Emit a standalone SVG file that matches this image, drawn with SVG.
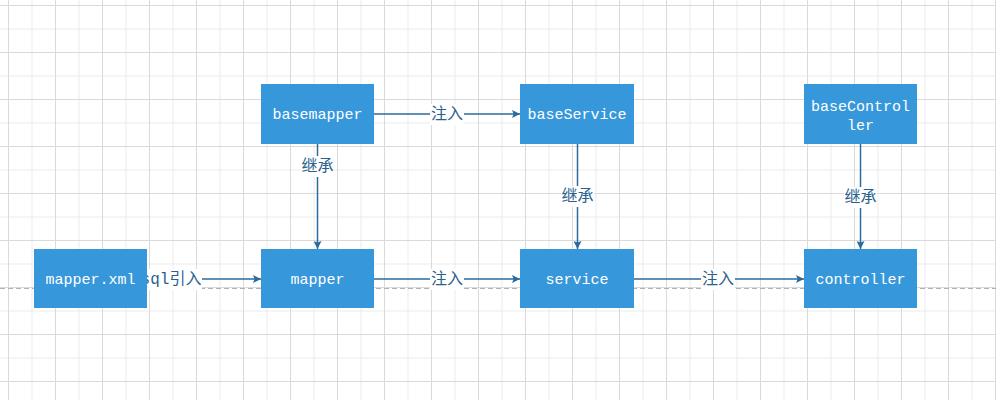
<svg xmlns="http://www.w3.org/2000/svg" width="996" height="400" viewBox="0 0 996 400">
<defs>
<pattern id="grid" patternUnits="userSpaceOnUse" x="8" y="5" width="47" height="47">
<rect x="0" y="0" width="47" height="47" fill="#ffffff"/>
<rect x="23.5" y="0" width="1" height="47" fill="#ececec"/>
<rect x="0" y="23.5" width="47" height="1" fill="#ececec"/>
<rect x="0" y="0" width="1" height="47" fill="#dadada"/>
<rect x="0" y="0" width="47" height="1" fill="#dadada"/>
</pattern>
<marker id="arr" viewBox="0 0 10 10" refX="10" refY="5" markerWidth="8" markerHeight="8" markerUnits="userSpaceOnUse" orient="auto">
<path d="M0,0 L10,5 L0,10 L2,5 Z" fill="#2b6a9c"/>
</marker>
<style>
.box{fill:#3797db;}
.bt{font-family:"Liberation Mono",monospace;font-size:15px;fill:#ffffff;text-anchor:middle;dominant-baseline:central;}
.ln{stroke:#2b6a9c;stroke-width:1.5;fill:none;marker-end:url(#arr);}
.lb{font-family:"Liberation Mono","Noto Sans CJK SC",monospace;font-size:16px;fill:#2b5f8c;text-anchor:middle;dominant-baseline:central;}
.lbg{fill:#ffffff;}
</style>
</defs>
<rect x="0" y="0" width="996" height="400" fill="url(#grid)"/>
<line x1="0" y1="288.5" x2="996" y2="288.5" stroke="#b0b0b0" stroke-width="1" stroke-dasharray="5,3"/>

<g id="connectors">
<line class="ln" x1="374" y1="114" x2="520" y2="114"/>
<line class="ln" x1="317.5" y1="144" x2="317.5" y2="249"/>
<line class="ln" x1="147" y1="279" x2="261" y2="279"/>
<line class="ln" x1="374" y1="279" x2="520" y2="279"/>
<line class="ln" x1="634" y1="279" x2="804" y2="279"/>
<line class="ln" x1="577.5" y1="144" x2="577.5" y2="249"/>
<line class="ln" x1="860.5" y1="144" x2="860.5" y2="249"/>
<rect class="lbg" x="430" y="104" width="34" height="21"/>
<text class="lb" x="447" y="115">注入</text>
<rect class="lbg" x="301" y="156" width="33" height="21"/>
<text class="lb" x="317.5" y="167">继承</text>
<rect class="lbg" x="140" y="269" width="62" height="21"/>
<text class="lb" x="171" y="280">sql引入</text>
<rect class="lbg" x="430" y="269" width="34" height="21"/>
<text class="lb" x="447" y="280">注入</text>
<rect class="lbg" x="701" y="269" width="34" height="21"/>
<text class="lb" x="718" y="280">注入</text>
<rect class="lbg" x="561" y="186" width="33" height="21"/>
<text class="lb" x="577.5" y="197">继承</text>
<rect class="lbg" x="844" y="187" width="33" height="21"/>
<text class="lb" x="860.5" y="198">继承</text>
</g>

<g id="basemapper">
<rect class="box" x="261" y="84" width="113" height="60"/>
<text class="bt" x="317.5" y="115">basemapper</text>
</g>
<g id="baseService">
<rect class="box" x="520" y="84" width="114" height="60"/>
<text class="bt" x="577" y="115">baseService</text>
</g>
<g id="baseController">
<rect class="box" x="804" y="84" width="113" height="60"/>
<text class="bt" x="860.5" y="107">baseControl</text>
<text class="bt" x="860.5" y="126">ler</text>
</g>
<g id="mapperxml">
<rect class="box" x="34" y="249" width="113" height="59"/>
<text class="bt" x="90.5" y="280">mapper.xml</text>
</g>
<g id="mapper">
<rect class="box" x="261" y="249" width="113" height="59"/>
<text class="bt" x="317.5" y="280">mapper</text>
</g>
<g id="service">
<rect class="box" x="520" y="249" width="114" height="59"/>
<text class="bt" x="577" y="280">service</text>
</g>
<g id="controller">
<rect class="box" x="804" y="249" width="113" height="59"/>
<text class="bt" x="860.5" y="280">controller</text>
</g>
</svg>
